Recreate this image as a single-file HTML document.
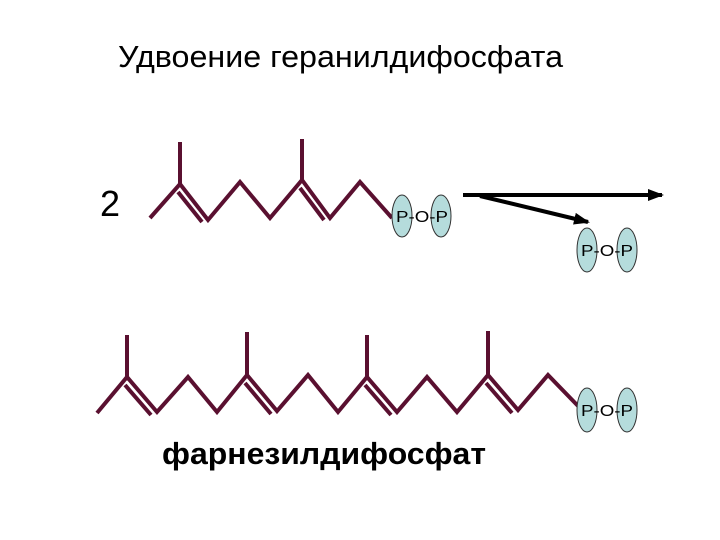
<!DOCTYPE html>
<html><head><meta charset="utf-8"><style>
body{margin:0;background:#fff;width:720px;height:540px;overflow:hidden}
svg{display:block}
</style></head><body>
<svg width="720" height="540" viewBox="0 0 720 540" xmlns="http://www.w3.org/2000/svg">
<defs><marker id="ah" markerWidth="16" markerHeight="12" refX="14" refY="6" orient="auto" markerUnits="userSpaceOnUse"><path d="M0,0 L16,6 L0,12 Z" fill="#000"/></marker></defs>
<text x="118" y="67" font-family="Liberation Sans, sans-serif" font-size="31" fill="#000" textLength="445" lengthAdjust="spacingAndGlyphs">Удвоение геранилдифосфата</text>
<text x="100" y="216" font-family="Liberation Sans, sans-serif" font-size="36" fill="#000">2</text>
<g stroke="#5a1030" stroke-width="4" fill="none" stroke-linejoin="miter">
<polyline points="150,218 180,184 208,220 240,182 270,218 302,180 330,218 360,182 392,218"/>
<line x1="180" y1="184" x2="180" y2="142"/>
<line x1="302" y1="180" x2="302" y2="139"/>
<line x1="178" y1="192" x2="202" y2="222"/>
<line x1="300" y1="188" x2="324" y2="220"/>
<polyline points="97,413 127,377 157,412 188,377 217,412 247,375 277,411 308,375 338,412 367,377 397,412 427,377 457,412 488,375 518,410 548,375 580,408"/>
<line x1="127" y1="377" x2="127" y2="335"/>
<line x1="247" y1="375" x2="247" y2="332"/>
<line x1="367" y1="377" x2="367" y2="335"/>
<line x1="488" y1="375" x2="488" y2="331"/>
<line x1="125" y1="385" x2="151" y2="415"/>
<line x1="245" y1="383" x2="271" y2="414"/>
<line x1="365" y1="385" x2="391" y2="415"/>
<line x1="486" y1="383" x2="512" y2="413"/>
</g>
<g stroke="#000" stroke-width="4">
<line x1="463" y1="195" x2="662" y2="195" marker-end="url(#ah)"/>
<line x1="480" y1="196" x2="588" y2="222" marker-end="url(#ah)"/>
</g>
<g fill="#b5dcdc" stroke="#333" stroke-width="1">
<ellipse cx="402" cy="216" rx="10" ry="21"/><ellipse cx="441" cy="216" rx="10" ry="21"/>
<ellipse cx="587" cy="250" rx="10" ry="22"/><ellipse cx="627" cy="250" rx="10" ry="22"/>
<ellipse cx="587" cy="410" rx="10" ry="22"/><ellipse cx="627" cy="410" rx="10" ry="22"/>
</g>
<g font-family="Liberation Sans, sans-serif" font-size="16" fill="#000">
<text x="396" y="222" textLength="52" lengthAdjust="spacingAndGlyphs">P-O-P</text>
<text x="581" y="256" textLength="52" lengthAdjust="spacingAndGlyphs">P-O-P</text>
<text x="581" y="416" textLength="52" lengthAdjust="spacingAndGlyphs">P-O-P</text>
</g>
<text x="162" y="464" font-family="Liberation Sans, sans-serif" font-size="31" font-weight="bold" fill="#000" textLength="324" lengthAdjust="spacingAndGlyphs">фарнезилдифосфат</text>
</svg>
</body></html>
